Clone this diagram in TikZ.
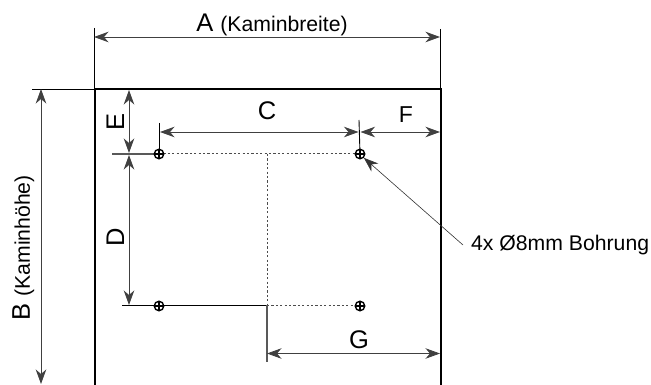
\documentclass[tikz,border=0pt]{standalone}
\usepackage{fontspec}
\setmainfont{Liberation Sans}
\usetikzlibrary{arrows.meta}
\tikzset{
  dimline/.style={line width=0.8pt,draw=black!75,{Stealth[length=14.5pt,width=10.5pt,inset=4.5pt]}-{Stealth[length=14.5pt,width=10.5pt,inset=4.5pt]}},
  extline/.style={line width=0.9pt,black},
  outline/.style={line width=1.6pt,black},
  hidden/.style={line width=1pt,black!70,dash pattern=on 2.2pt off 2.2pt},
  leader/.style={line width=0.6pt,black!80,{Stealth[length=14.5pt,width=10.5pt,inset=4.5pt]}-},
  hole/.style={circle,draw=black,line width=1.4pt,inner sep=0pt,minimum size=9.5pt,
    path picture={\draw[line width=1.1pt,black] (path picture bounding box.north)--(path picture bounding box.south) (path picture bounding box.west)--(path picture bounding box.east);}},
  big/.style={font=\fontsize{25.5}{28}\selectfont,inner sep=0pt},
  small/.style={font=\fontsize{21.2}{24}\selectfont,inner sep=0pt}
}
\begin{document}
\begin{tikzpicture}[x=1pt,y=-1pt]
\useasboundingbox (0,0) rectangle (651,385);
% plate
\coordinate (tl) at (95,89);
\coordinate (tr) at (441,89);
\coordinate (bl) at (95,385);
\coordinate (br) at (441,385);
\draw[outline] (bl)--(tl)--(tr)--(br);
% centre lines
\coordinate (hl) at (159,154);
\coordinate (hr) at (360,154);
\coordinate (mt) at (267,154);
\coordinate (mb) at (267,305);
\coordinate (hb) at (360,305);
\draw[hidden] (hl)--(hr);
\draw[hidden] (mt)--(mb);
\draw[hidden] (mb)--(hb);
% extension lines
\coordinate (a1) at (94,28); \coordinate (a2) at (94,89);
\coordinate (a3) at (440,29); \coordinate (a4) at (440,89);
\draw[extline] (a1)--(a2);
\draw[extline] (a3)--(a4);
\coordinate (b1) at (32,89);
\draw[extline] (b1)--(tl);
\coordinate (e1) at (112,154);
\draw[extline,line width=1.2pt,black!65] (e1)--(hl);
\coordinate (d1) at (122,305);
\draw[extline] (d1)--(mb);
\coordinate (c1) at (159,123);
\draw[extline] (c1)--(hl);
\coordinate (c2) at (359,120);
\draw[extline] (c2)--(hr);
\coordinate (g1) at (267,362);
\draw[extline,line width=1.1pt,black!65] (mb)--(g1);
% holes
\node[hole,fill=white] (h1) at (hl) {};
\node[hole,fill=white] (h2) at (hr) {};
\node[hole,fill=white] (h3) at (159,306) {};
\node[hole,fill=white] (h4) at (360,306) {};
% dimension lines
\coordinate (A1) at (94,37); \coordinate (A2) at (440,37);
\draw[dimline] (A1)--(A2);
\coordinate (B1) at (41,89); \coordinate (B2) at (41,384);
\draw[dimline] (B1)--(B2);
\coordinate (E1) at (129,90); \coordinate (E2) at (129,153);
\draw[dimline] (E1)--(E2);
\coordinate (D1) at (129,155); \coordinate (D2) at (129,305);
\draw[dimline] (D1)--(D2);
\coordinate (C1) at (160,132); \coordinate (C2) at (358.5,132);
\draw[dimline] (C1)--(C2);
\coordinate (F1) at (360.5,132); \coordinate (F2) at (440,132);
\draw[dimline] (F1)--(F2);
\coordinate (G1) at (267,353.5); \coordinate (G2) at (440,353.5);
\draw[dimline] (G1)--(G2);
% labels
\node[anchor=base,inner sep=0pt] (la) at (272,32) {\fontsize{25.5}{28}\selectfont A \fontsize{21.2}{24}\selectfont (Kaminbreite)};
\node[anchor=base,inner sep=0pt,rotate=90] (lb) at (30,248) {\fontsize{25.5}{28}\selectfont B \fontsize{21.2}{24}\selectfont (Kaminhöhe)};
\node[big,anchor=base] (lc) at (267,120) {C};
\node[big,anchor=base] (lf) at (406,123) {\fontsize{23}{25}\selectfont F};
\node[big,anchor=base] (lg) at (359,348) {G};
\node[big,anchor=base,rotate=90] (le) at (124,122) {E};
\node[big,anchor=base,rotate=90] (ld) at (124,237) {D};
\node[small,anchor=west] (note) at (471,245) {4x Ø8mm Bohrung};
% leader
\coordinate (n1) at (463,245);
\draw[leader] (h2.south east)--(n1);
\end{tikzpicture}
\end{document}
